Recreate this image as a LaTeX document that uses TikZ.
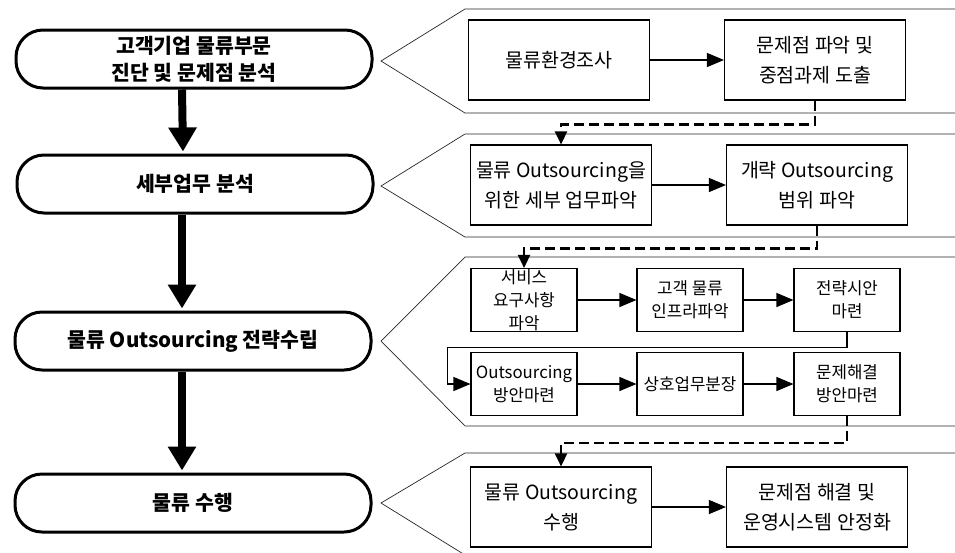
\documentclass[tikz,border=0pt]{standalone}
\usepackage{fontspec}
\setmainfont{Noto Sans CJK KR}
\usetikzlibrary{arrows.meta}

\begin{document}
\begin{tikzpicture}[x=1pt, y=-1pt,
    stage/.style={draw, line width=3pt, rounded corners=27pt, minimum width=356pt,
                  minimum height=58pt, align=center, inner sep=1pt,
                  font=\fontsize{20.5}{27}\selectfont\bfseries},
    task/.style={draw, line width=1.1pt, minimum width=181pt, minimum height=80pt,
                 align=center, inner sep=1pt, font=\fontsize{19.5}{30}\selectfont},
    subtask/.style={task, minimum width=106pt, minimum height=63pt, inner sep=0pt,
                    font=\fontsize{16.8}{23}\selectfont},
    panel/.style={line width=0.7pt, black!85},
    stageflow/.style={line width=8pt, shorten >=2pt, -{Triangle[length=24pt,width=27pt]}},
    flow/.style={line width=1.1pt, -{Triangle[length=17pt,width=14pt]}},
    handoff/.style={line width=2.5pt, dash pattern=on 10pt off 5pt,
                    -{Triangle[length=13pt,width=12pt]}}]

    \useasboundingbox (0,0) rectangle (955,552);

    % Stage pills on the left
    \node[stage] (P1) at (194,59)  {고객기업 물류부문\\진단 및 문제점 분석};
    \node[stage] (P2) at (195,184) {세부업무 분석};
    \node[stage] (P3) at (193,341) {물류 Outsourcing 전략수립};
    \node[stage] (P4) at (193,503) {물류 수행};

    \draw[stageflow] ([xshift=-12pt]P1.south) -- ([xshift=-12pt]P2.north);
    \draw[stageflow] ([xshift=-13pt]P2.south) -- ([xshift=-11pt]P3.north);
    \draw[stageflow] ([xshift=-11pt]P3.south) -- ([xshift=-11pt]P4.north);

    % Detail panels, open to the right
    \foreach \top/\mid/\bot in {9/61/113, 134/186/237, 257/341/426, 453/503/555}
        \draw[panel] (955,\top) -- (465,\top) -- (381,\mid) -- (465,\bot) -- (955,\bot);

    % Panel 1
    \node[task] (A) at (559,60) {물류환경조사};
    \node[task] (B) at (815,60) {문제점 파악 및\\중점과제 도출};
    \draw[flow] (A) -- (B);

    % Panel 2
    \node[task] (C) at (561,185) {물류 Outsourcing을\\위한 세부 업무파악};
    \node[task] (D) at (817,185) {개략 Outsourcing\\범위 파악};
    \draw[flow] (C) -- (D);
    \draw[handoff] (B.south) -- ++(0,24) -| (C.north);

    % Panel 3
    \node[subtask] (E) at (524,300) {서비스\\요구사항\\파악};
    \node[subtask] (F) at (690,300) {고객 물류\\인프라파악};
    \node[subtask] (G) at (847,300) {전략시안\\마련};
    \node[subtask] (H) at (524,384) {Outsourcing\\방안마련};
    \node[subtask] (I) at (690,384) {상호업무분장};
    \node[subtask] (J) at (847,384) {문제해결\\방안마련};
    \draw[flow] (E) -- (F);
    \draw[flow] (F) -- (G);
    \draw[flow] (G.south) -- ++(0,15) -| ([xshift=-23pt]H.west) -- (H.west);
    \draw[flow] (H) -- (I);
    \draw[flow] (I) -- (J);
    \draw[handoff] (D.south) -- ++(0,23) -| (E.north);

    % Panel 4
    \node[task] (K) at (561,507) {물류 Outsourcing\\수행};
    \node[task] (L) at (817,507) {문제점 해결 및\\운영시스템 안정화};
    \draw[flow] (K) -- (L);
    \draw[handoff] (J.south) -- ++(0,27) -| (K.north);
\end{tikzpicture}
\end{document}
